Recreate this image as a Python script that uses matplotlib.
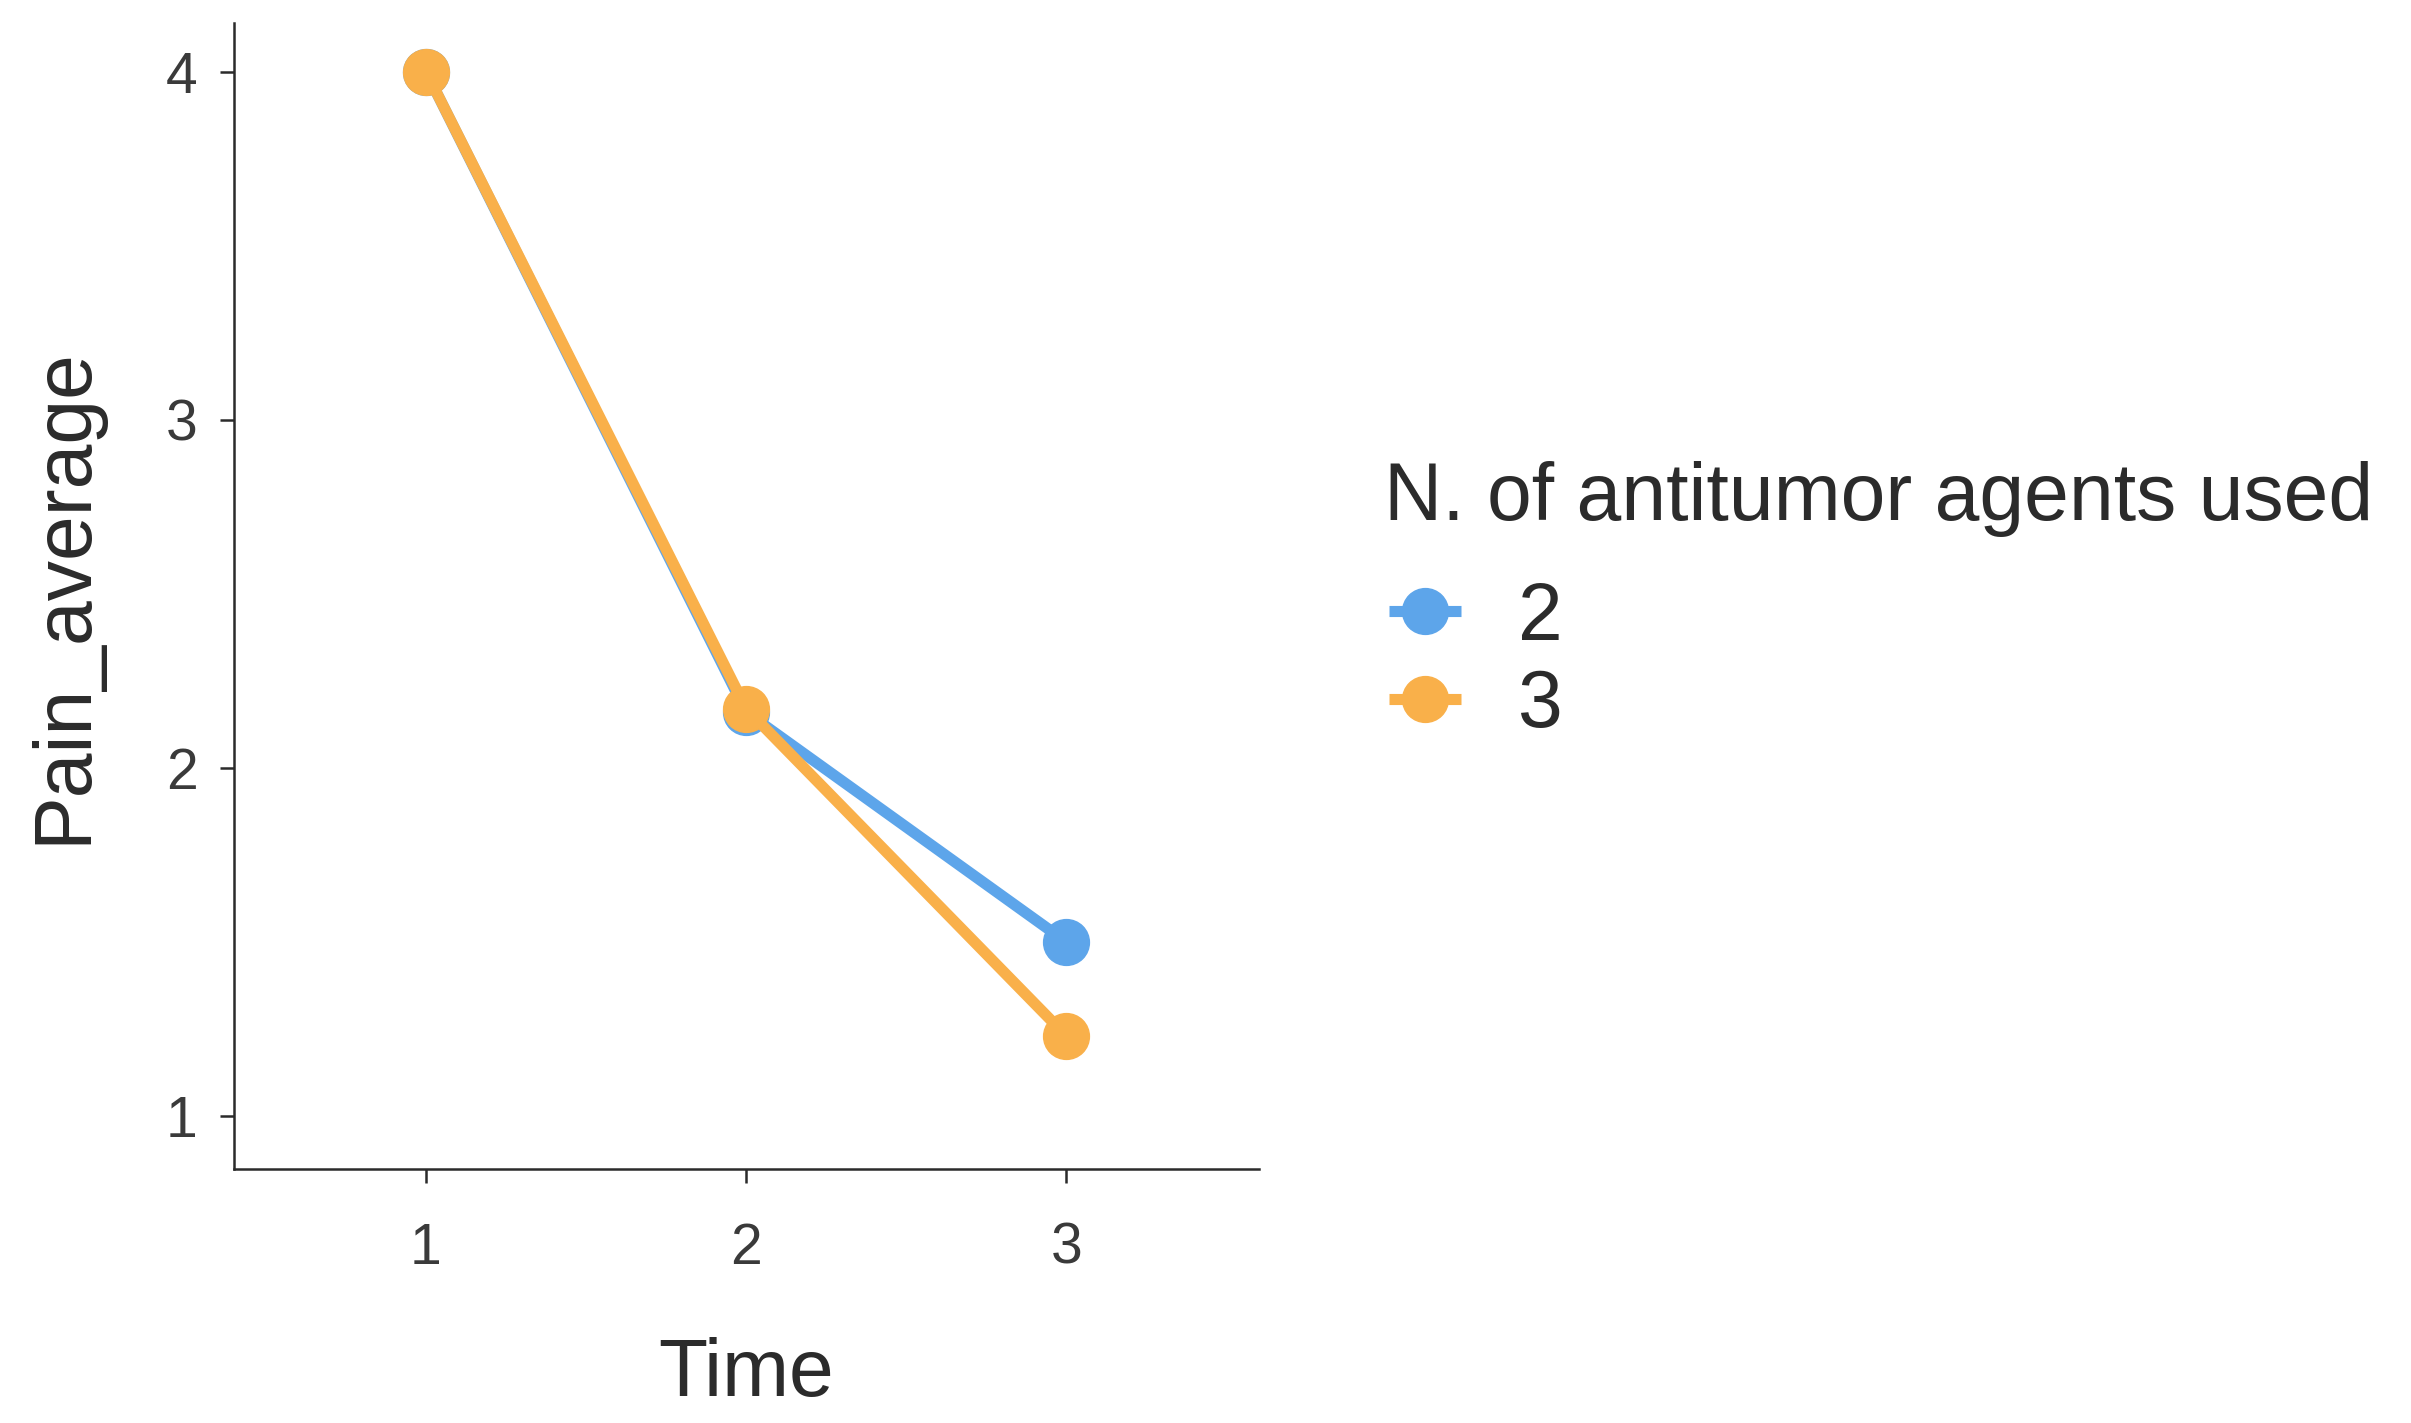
import matplotlib
matplotlib.use('Agg')
import matplotlib.pyplot as plt

# Data
TIME = [1, 2, 3]
PAIN_2 = [4.0, 2.16, 1.50]
PAIN_3 = [4.0, 2.17, 1.23]
GROUPS = ['2', '3']
LEGEND_TITLE = 'N. of antitumor agents used'

C_2 = '#5DA5EA'   # blue
C_3 = '#F9B04A'   # orange
DARK = '#2b2b2b'

plt.rcParams['font.family'] = ['Liberation Sans', 'DejaVu Sans']

fig = plt.figure(figsize=(24.11, 14.23), dpi=100)
ax = fig.add_axes([0.097, 0.1785, 0.425, 0.8055])

for vals, c, lab in [(PAIN_2, C_2, GROUPS[0]), (PAIN_3, C_3, GROUPS[1])]:
    ax.plot(TIME, vals, '-o', color=c, linewidth=8, markersize=33,
            solid_capstyle='butt', label=lab)

ax.set_xlim(0.4, 3.6)
ax.set_ylim(0.848, 4.14)
ax.set_xticks(TIME)
ax.set_yticks([1, 2, 3, 4])

for s in ['top', 'right']:
    ax.spines[s].set_visible(False)
for s in ['left', 'bottom']:
    ax.spines[s].set_linewidth(1.8)
    ax.spines[s].set_color(DARK)
ax.tick_params(axis='both', length=10, width=1.8, color=DARK,
               labelsize=41, labelcolor='#3a3a3a', pad=16)
ax.tick_params(axis='x', pad=28)

ax.set_xlabel('Time', fontsize=58, color=DARK, labelpad=44)
ax.set_ylabel('Pain_average', fontsize=58, color=DARK, labelpad=46)

# legend title placed as its own text, entries below it
fig.text(0.574, 0.6346, LEGEND_TITLE, fontsize=58, color=DARK,
         ha='left', va='baseline')
leg = fig.legend(loc='upper left', bbox_to_anchor=(0.576, 0.592),
                 frameon=False, fontsize=58, handlelength=0.9,
                 handletextpad=0.7, labelspacing=0.14,
                 borderpad=0, borderaxespad=0)
for t in leg.get_texts():
    t.set_color(DARK)

plt.savefig('out.png', dpi=100)
